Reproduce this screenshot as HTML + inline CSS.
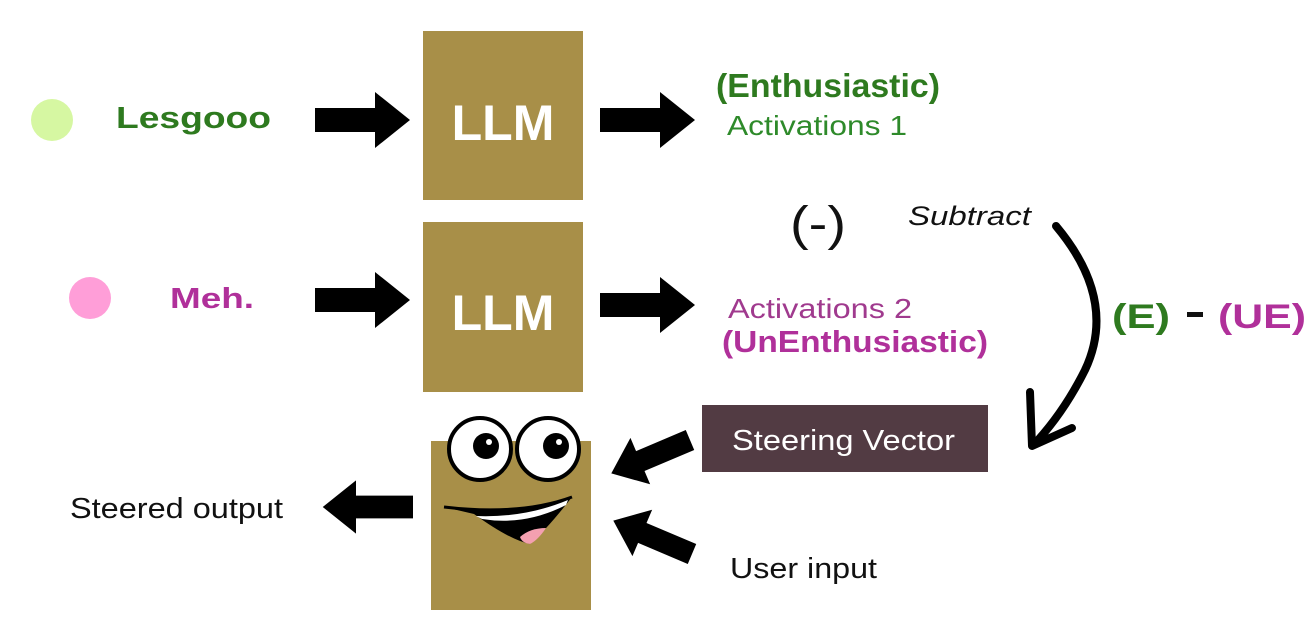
<!DOCTYPE html>
<html><head><style>html,body{margin:0;padding:0;background:#fff;}svg{display:block}</style></head>
<body>
<svg width="1316" height="636" viewBox="0 0 1316 636" xmlns="http://www.w3.org/2000/svg" font-family="Liberation Sans, sans-serif">
<defs>
<path id="arr" d="M0,-12 L60,-12 L60,-28 L95,0 L60,28 L60,12 L0,12 Z" fill="#000"/>
</defs>
<circle cx="52" cy="120" r="21" fill="#d6f7a2"/>
<text x="116" y="128" font-size="31" font-weight="bold" fill="#2e7a1f" textLength="155" lengthAdjust="spacingAndGlyphs">Lesgooo</text>
<use href="#arr" transform="translate(315,120)"/>
<rect x="423" y="31" width="160" height="169" fill="#a88f48"/>
<text x="503" y="140" font-size="50" font-weight="bold" fill="#fff" text-anchor="middle">LLM</text>
<use href="#arr" transform="translate(600,120)"/>
<text x="716" y="97" font-size="33" font-weight="bold" fill="#2e7a1f" textLength="224" lengthAdjust="spacingAndGlyphs">(Enthusiastic)</text>
<text x="727" y="135" font-size="28" fill="#2e8a2a" textLength="180" lengthAdjust="spacingAndGlyphs">Activations 1</text>
<text x="790" y="240" font-size="48" fill="#111" textLength="56" lengthAdjust="spacingAndGlyphs">(-)</text>
<text x="908" y="225" font-size="27" font-style="italic" fill="#111" textLength="123" lengthAdjust="spacingAndGlyphs">Subtract</text>

<circle cx="90" cy="298" r="21" fill="#ff9ed8"/>
<text x="170" y="308" font-size="29" font-weight="bold" fill="#b0309a" textLength="84" lengthAdjust="spacingAndGlyphs">Meh.</text>
<use href="#arr" transform="translate(315,300)"/>
<rect x="423" y="222" width="160" height="170" fill="#a88f48"/>
<text x="503" y="330" font-size="50" font-weight="bold" fill="#fff" text-anchor="middle">LLM</text>
<use href="#arr" transform="translate(600,305)"/>
<text x="728" y="318" font-size="28" fill="#a03a8e" textLength="184" lengthAdjust="spacingAndGlyphs">Activations 2</text>
<text x="722" y="352" font-size="31" font-weight="bold" fill="#b0309a" textLength="266" lengthAdjust="spacingAndGlyphs">(UnEnthusiastic)</text>

<text x="1112" y="328" font-size="34" font-weight="bold" fill="#2e7a1f" textLength="58" lengthAdjust="spacingAndGlyphs">(E)</text>
<rect x="1187" y="312" width="16" height="5" fill="#111"/>
<text x="1218" y="328" font-size="34" font-weight="bold" fill="#b0309a" textLength="88" lengthAdjust="spacingAndGlyphs">(UE)</text>

<path d="M1056,226 Q1118,300 1085,370 Q1065,410 1038,440" fill="none" stroke="#000" stroke-width="8" stroke-linecap="round"/>
<path d="M1030,392 L1032,446 L1072,428" fill="none" stroke="#000" stroke-width="8" stroke-linejoin="round" stroke-linecap="round"/>

<rect x="702" y="405" width="286" height="67" fill="#523b43"/>
<text x="732" y="450" font-size="29" fill="#fff" textLength="223" lengthAdjust="spacingAndGlyphs">Steering Vector</text>

<rect x="431" y="441" width="160" height="169" fill="#a88f48"/>
<circle cx="480" cy="449" r="31" fill="#fff" stroke="#000" stroke-width="4"/>
<circle cx="548" cy="449" r="31" fill="#fff" stroke="#000" stroke-width="4"/>
<circle cx="486" cy="446" r="13" fill="#000"/><circle cx="489" cy="442" r="3" fill="#fff"/>
<circle cx="556" cy="446" r="13" fill="#000"/><circle cx="559" cy="442" r="3" fill="#fff"/>
<path d="M444,507 Q520,516 572,497 Q548,528 530,544 Q510,540 474,514 Z" fill="#000"/>
<path d="M476,516 Q525,518 568,500 L566,505 Q525,526 482,519 Z" fill="#fff"/>
<path d="M520,537 Q530,528 546,528 Q538,540 530,544 Q522,543 520,537Z" fill="#f4a0b0"/>
<path d="M444,507 Q520,516 572,497" fill="none" stroke="#000" stroke-width="3"/>

<use href="#arr" transform="translate(690,440) rotate(157) scale(0.9)"/>
<use href="#arr" transform="translate(692,554) rotate(-157) scale(0.9)"/>
<use href="#arr" transform="translate(413,507) rotate(180) scale(0.95)"/>
<text x="70" y="518" font-size="29" fill="#111" textLength="213" lengthAdjust="spacingAndGlyphs">Steered output</text>
<text x="730" y="578" font-size="29" fill="#111" textLength="147" lengthAdjust="spacingAndGlyphs">User input</text>
</svg>
</body></html>
